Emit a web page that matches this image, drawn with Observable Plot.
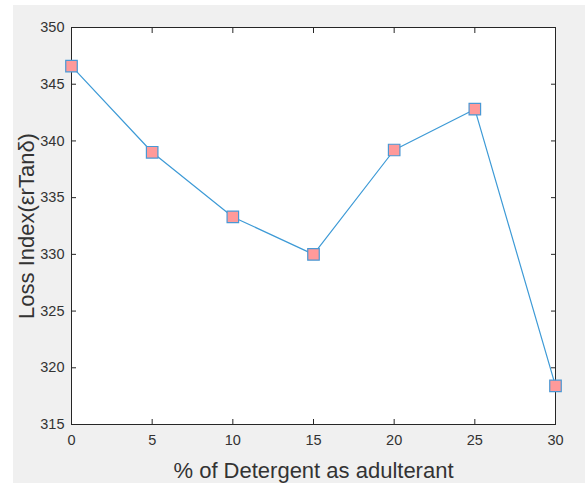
<!DOCTYPE html>
<html>
<head>
<meta charset="utf-8">
<script src="https://cdn.jsdelivr.net/npm/d3@7"></script>
<script src="https://cdn.jsdelivr.net/npm/@observablehq/plot@0.6"></script>
<style>
  html, body { margin: 0; padding: 0; background: #ffffff; }
  #wrap { position: relative; width: 585px; height: 483px; overflow: hidden; }
  #bg { position: absolute; left: 13px; top: 5px; width: 572px; height: 478px; background: #f0f0f0; }
  #chart { position: absolute; left: 0; top: 0; }
</style>
</head>
<body>
<div id="wrap"><div id="bg"></div><div id="chart"></div></div>
<script>
const detergent = [0, 5, 10, 15, 20, 25, 30];
const lossIndex = [346.6, 339.0, 333.3, 330.0, 339.2, 342.8, 318.4];
const xTicks = [0, 5, 10, 15, 20, 25, 30];
const yTicks = [315, 320, 325, 330, 335, 340, 345, 350];
const xLabel = "% of Detergent as adulterant";
const yLabel = "Loss Index(εrTanδ)";

const data = detergent.map((d, i) => ({x: d, y: lossIndex[i]}));
const axisColor = "#262626";
const labelColor = "#333333";
const noLabel = () => "";

const chart = Plot.plot({
  width: 585,
  height: 483,
  marginLeft: 71,
  marginRight: 30,
  marginTop: 27,
  marginBottom: 59,
  style: {background: "transparent", fontFamily: "'Liberation Sans', Arial, sans-serif", color: axisColor},
  x: {domain: [0, 30]},
  y: {domain: [315, 350]},
  marks: [
    Plot.frame({fill: "white", stroke: null}),
    // labels
    Plot.axisX({anchor: "bottom", ticks: xTicks, tickSize: 0, tickPadding: 10, fontSize: 14.5, label: null, tickFormat: d => String(d), fill: labelColor}),
    Plot.axisY({anchor: "left", ticks: yTicks, tickSize: 0, tickPadding: 7, fontSize: 14.5, label: null, tickFormat: d => String(d), fill: labelColor}),
    // inward ticks
    Plot.axisX({anchor: "bottom", ticks: xTicks, tickSize: 5, dy: -5, tickFormat: noLabel, label: null, stroke: axisColor}),
    Plot.axisX({anchor: "top", ticks: xTicks, tickSize: 5, dy: 5, tickFormat: noLabel, label: null, stroke: axisColor}),
    Plot.axisY({anchor: "left", ticks: yTicks, tickSize: 5, dx: 5, tickFormat: noLabel, label: null, stroke: axisColor}),
    Plot.axisY({anchor: "right", ticks: yTicks, tickSize: 5, dx: -5, tickFormat: noLabel, label: null, stroke: axisColor}),
    Plot.frame({stroke: axisColor, strokeWidth: 1}),
    Plot.line(data, {x: "x", y: "y", stroke: "#3d9ad6", strokeWidth: 1.2}),
    Plot.dot(data, {x: "x", y: "y", symbol: "square", r: 6.5, fill: "#ff9a9a", stroke: "#4a98d4", strokeWidth: 1.2}),
    Plot.text([xLabel], {frameAnchor: "bottom", dy: 53, fontSize: 22, fill: labelColor, lineAnchor: "bottom", textAnchor: "middle"}),
    Plot.text([yLabel], {frameAnchor: "left", dx: -45, rotate: -90, fontSize: 22, fill: labelColor, lineAnchor: "middle", textAnchor: "middle"})
  ]
});
document.getElementById("chart").appendChild(chart);
</script>
</body>
</html>
